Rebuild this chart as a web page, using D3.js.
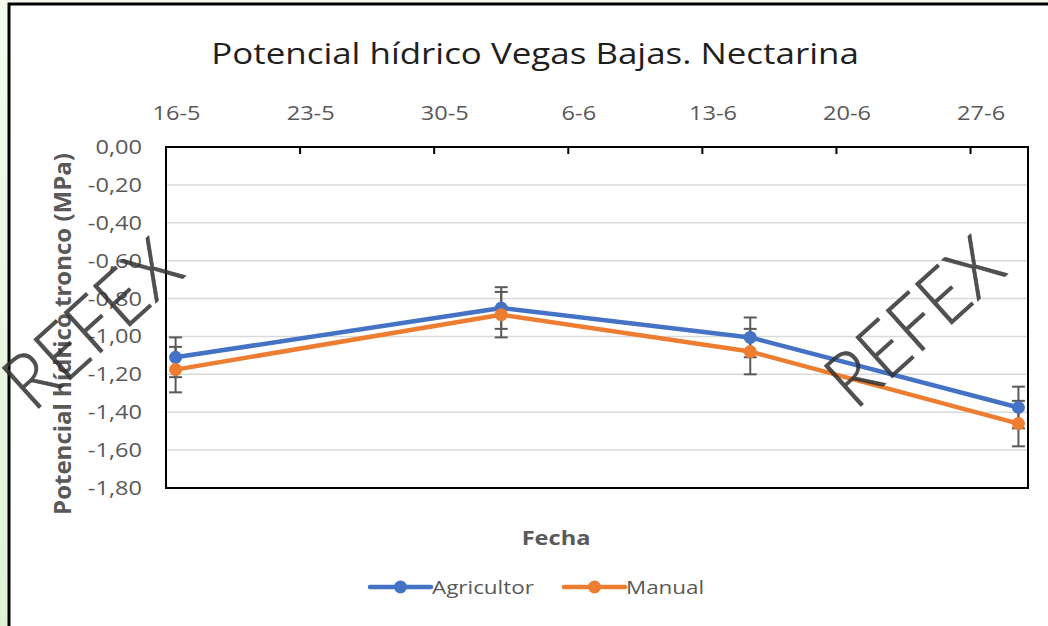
<!DOCTYPE html>
<html>
<head>
<meta charset="utf-8">
<script src="https://cdn.jsdelivr.net/npm/d3@7"></script>
<style>
  html, body { margin: 0; padding: 0; }
  body { width: 1048px; height: 626px; overflow: hidden;
    background: linear-gradient(to bottom, #f4faf0, #e0f2d4); }
  text { font-family: 'Open Sans', 'Liberation Sans', sans-serif; }
</style>
</head>
<body>
<div id="chart"></div>
<script>

// Data
var fechas = ['2021-05-16', '2021-06-02', '2021-06-15', '2021-06-29'];
var agricultor = [-1.11, -0.85, -1.005, -1.375];
var agricultorErr = [0.105, 0.11, 0.105, 0.11];
var manual = [-1.175, -0.885, -1.08, -1.46];
var manualErr = [0.12, 0.12, 0.12, 0.12];
var tickLabels = ['16-5', '23-5', '30-5', '6-6', '13-6', '20-6', '27-6'];
var yTicks = [0, -0.2, -0.4, -0.6, -0.8, -1.0, -1.2, -1.4, -1.6, -1.8];

var w = 1048, h = 626;
var sx = 1.18; // the original picture is a bit stretched sideways
var parse = d3.timeParse('%Y-%m-%d');
var inicio = parse('2021-05-16'), fin = parse('2021-06-30');

var locale = d3.formatLocale({decimal: ',', thousands: '.', grouping: [3], currency: ['', ''], minus: '-'});
var fmt = locale.format('.2f');

// Scales
var x = d3.scaleTime().domain([inicio, fin]).range([166, 1028]);
var y = d3.scaleLinear().domain([-1.8, 0]).range([488, 147]);
var mitad = function(d){ return d3.timeHour.offset(d, 12); };

var svg = d3.select('#chart').append('svg').attr('width', w).attr('height', h);

// text placed at (px,py), widened by sx
function stretched(sel, px, py){
  return sel.attr('transform', 'translate(' + px + ',' + py + ') scale(' + sx + ',1)');
}

// White panel with frame
svg.append('rect').attr('x', 9).attr('y', 4).attr('width', w + 10).attr('height', h + 10)
  .style('fill', '#fff').style('stroke', '#000').style('stroke-width', 3);

// Title
stretched(svg.append('text'), 535, 64).attr('text-anchor', 'middle')
  .style('font-size', '29.6px').style('fill', '#1f1f1f')
  .text('Potencial hídrico Vegas Bajas. Nectarina');

// Gridlines
svg.selectAll('.grid').data(yTicks.slice(1, -1)).enter().append('line')
  .attr('class', 'grid')
  .attr('x1', x.range()[0]).attr('x2', x.range()[1])
  .attr('y1', function(d){ return y(d); }).attr('y2', function(d){ return y(d); })
  .style('stroke', '#d9d9d9').style('stroke-width', 1.5);

// Y labels
svg.selectAll('.ylab').data(yTicks).enter().append('text')
  .attr('class', 'ylab')
  .attr('transform', function(d){ return 'translate(142,' + y(d) + ') scale(' + sx + ',1)'; })
  .attr('dy', '0.35em')
  .attr('text-anchor', 'end')
  .style('font-size', '20px').style('fill', '#595959')
  .text(function(d){ return fmt(d); });

// X ticks (top) and labels
var semanas = tickLabels.map(function(t, i){ return d3.timeDay.offset(inicio, 7 * i); });
svg.selectAll('.xtick').data(semanas.slice(1)).enter().append('line')
  .attr('class', 'xtick')
  .attr('x1', function(d){ return x(d); }).attr('x2', function(d){ return x(d); })
  .attr('y1', y(0)).attr('y2', y(0) + 7)
  .style('stroke', '#000').style('stroke-width', 2);

svg.selectAll('.xlab').data(semanas).enter().append('text')
  .attr('class', 'xlab')
  .attr('transform', function(d){ return 'translate(' + (x(mitad(d)) + 1) + ',120) scale(' + sx + ',1)'; })
  .attr('text-anchor', 'middle')
  .style('font-size', '20px').style('fill', '#595959')
  .text(function(d, i){ return tickLabels[i]; });

// Plot border
svg.append('rect')
  .attr('x', x.range()[0]).attr('y', y(0))
  .attr('width', x.range()[1] - x.range()[0]).attr('height', y(-1.8) - y(0))
  .style('fill', 'none').style('stroke', '#000').style('stroke-width', 2);

// Series
var series = [
  {name: 'Agricultor', values: agricultor, err: agricultorErr, color: '#4472C4'},
  {name: 'Manual', values: manual, err: manualErr, color: '#ED7D31'}
];
series.forEach(function(s){
  s.points = fechas.map(function(f, i){
    return {x: x(mitad(parse(f))), v: s.values[i], e: s.err[i]};
  });
});

// Error bars (under lines)
series.forEach(function(s){
  var g = svg.append('g').attr('class', 'err');
  var eb = g.selectAll('g').data(s.points).enter().append('g');
  eb.append('line')
    .attr('x1', function(d){ return d.x; }).attr('x2', function(d){ return d.x; })
    .attr('y1', function(d){ return y(d.v + d.e); }).attr('y2', function(d){ return y(d.v - d.e); });
  eb.append('line')
    .attr('x1', function(d){ return d.x - 6.5; }).attr('x2', function(d){ return d.x + 6.5; })
    .attr('y1', function(d){ return y(d.v + d.e); }).attr('y2', function(d){ return y(d.v + d.e); });
  eb.append('line')
    .attr('x1', function(d){ return d.x - 6.5; }).attr('x2', function(d){ return d.x + 6.5; })
    .attr('y1', function(d){ return y(d.v - d.e); }).attr('y2', function(d){ return y(d.v - d.e); });
  g.selectAll('line').style('stroke', '#595959').style('stroke-width', 2);
});

var line = d3.line().x(function(d){ return d.x; }).y(function(d){ return y(d.v); });
series.forEach(function(s){
  svg.append('path').datum(s.points).attr('d', line)
    .style('fill', 'none').style('stroke', s.color).style('stroke-width', 4.5)
    .style('stroke-linejoin', 'round').style('stroke-linecap', 'round');
  svg.selectAll(null).data(s.points).enter().append('circle')
    .attr('cx', function(d){ return d.x; }).attr('cy', function(d){ return y(d.v); })
    .attr('r', 6.5).style('fill', s.color);
});

// Axis titles
svg.append('text').attr('transform', 'translate(71,334) rotate(-90)')
  .attr('text-anchor', 'middle')
  .style('font-size', '24px').style('font-weight', 'bold').style('fill', '#595959')
  .text('Potencial hídrico tronco (MPa)');

stretched(svg.append('text'), 556, 545).attr('text-anchor', 'middle')
  .style('font-size', '20px').style('font-weight', 'bold').style('fill', '#595959')
  .text('Fecha');

// Legend
var leg = svg.selectAll('.leg').data(series).enter().append('g')
  .attr('class', 'leg')
  .attr('transform', function(d, i){ return 'translate(' + (i ? 564 : 370) + ',587)'; });
leg.append('line').attr('x1', 0).attr('x2', 61)
  .style('stroke', function(d){ return d.color; }).style('stroke-width', 4.5)
  .style('stroke-linecap', 'round');
leg.append('circle').attr('cx', 30.5).attr('r', 6.5).style('fill', function(d){ return d.color; });
leg.append('text').attr('transform', 'translate(62,0) scale(' + sx + ',1)').attr('dy', '0.35em')
  .style('font-size', '19px').style('fill', '#595959')
  .text(function(d){ return d.name; });

// Watermarks
[[92, 324], [914, 322]].forEach(function(p){
  svg.append('text')
    .attr('transform', 'translate(' + p[0] + ',' + p[1] + ') rotate(-42) scale(1,1.1)')
    .attr('text-anchor', 'middle').attr('dy', '0.35em')
    .style('font-family', 'Lato, sans-serif').style('font-weight', 300)
    .style('font-size', '70px').style('fill', '#333').style('fill-opacity', 0.85)
    .style('stroke', '#333').style('stroke-width', 0.8).style('stroke-opacity', 0.7)
    .text('REFEX');
});

</script>
</body>
</html>
